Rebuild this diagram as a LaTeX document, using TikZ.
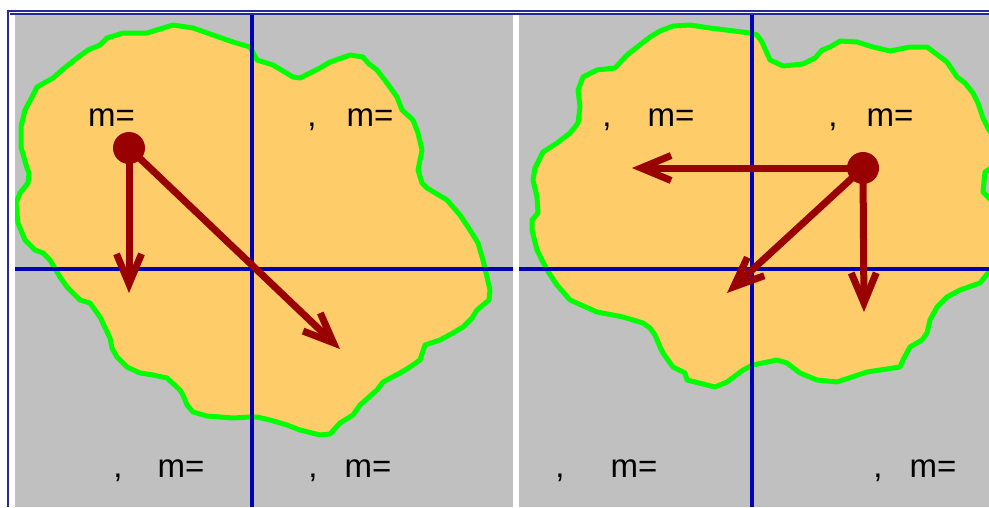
\documentclass[tikz,border=0pt]{standalone}
\usepackage{fontspec}
\setmainfont{Liberation Sans}
\usetikzlibrary{arrows.meta}
\definecolor{bggray}{RGB}{192,192,192}
\definecolor{blobfill}{RGB}{254,204,104}
\definecolor{blobline}{RGB}{0,255,0}
\definecolor{axisblue}{RGB}{0,0,180}
\definecolor{arrowred}{RGB}{153,0,0}
\definecolor{frameblue}{RGB}{40,40,150}
\begin{document}
\begin{tikzpicture}[x=1pt,y=-1pt,
  panel/.style={fill=bggray},
  blob/.style={fill=blobfill, draw=blobline, line width=5pt, line join=round},
  axisline/.style={draw=axisblue, line width=4.2pt},
  vec/.style={draw=arrowred, line width=7pt, -{Straight Barb[length=30pt,width=25pt]}},
  dot/.style={circle, fill=arrowred, minimum size=32pt, inner sep=0pt},
  lbl/.style={font=\fontsize{33}{36}\selectfont, inner sep=0pt, text=black, anchor=base},
  ]
\useasboundingbox (0,0) rectangle (989,507);
\fill[white] (0,0) rectangle (989,507);
% frame
\draw[frameblue, line width=1.8pt] (8,507) -- (8,10.8) -- (989,10.8);
\draw[frameblue, line width=1.5pt] (10,13.8) -- (989,13.8);
% panels
\fill[panel] (15,15) rectangle (512.7,507);
\fill[panel] (519.3,15) rectangle (989,507);
% blob 1
\begin{scope}
\clip (15,15) rectangle (512.7,507);
\draw[blob] (27,168) -- (21,147) -- (21,127) -- (25,110) -- (32,97) -- (37,87) -- (53,78) -- (62,70) -- (77,58) -- (88,50) -- (100,45) -- (107,38) -- (123,33) -- (147,33) -- (173,25) -- (193,28) -- (213,35) -- (233,42) -- (250,47) -- (257,60) -- (273,65) -- (293,77) -- (300,78) -- (320,68) -- (330,62) -- (350,55) -- (363,57) -- (368,63) -- (377,70) -- (387,83) -- (397,97) -- (402,110) -- (413,120) -- (418,133) -- (422,150) -- (418,170) -- (422,183) -- (427,188) -- (447,200) -- (460,215) -- (470,230) -- (478,243) -- (483,260) -- (487,277) -- (490,290) -- (489,300) -- (477,310) -- (472,318) -- (463,327) -- (453,333) -- (440,340) -- (425,345) -- (420,360) -- (410,367) -- (400,373) -- (383,382) -- (377,390) -- (360,405) -- (353,415) -- (340,423) -- (330,434) -- (320,435) -- (300,430) -- (287,425) -- (270,420) -- (257,417) -- (250,417) -- (233,418) -- (207,416) -- (193,412) -- (187,405) -- (183,395) -- (180,390) -- (167,378) -- (153,375) -- (140,373) -- (127,367) -- (117,357) -- (112,348) -- (110,338) -- (100,317) -- (90,303) -- (80,300) -- (67,287) -- (60,277) -- (50,260) -- (43,253) -- (35,250) -- (25,240) -- (18,223) -- (16,203) -- (20,193) -- (28,183) -- (29,173) -- cycle;
\end{scope}
% blob 2
\begin{scope}
\clip (519.3,15) rectangle (989,507);
\draw[blob] (535,168) -- (543,152) -- (557,143) -- (570,133) -- (578,123) -- (580,107) -- (578,90) -- (583,77) -- (597,70) -- (615,68) -- (627,55) -- (650,37) -- (660,31) -- (673,26) -- (690,25) -- (710,28) -- (750,33) -- (757,35) -- (762,42) -- (770,60) -- (783,66) -- (803,64) -- (815,58) -- (822,50) -- (830,47) -- (840,41) -- (857,42) -- (873,47) -- (890,51) -- (910,47) -- (927,47) -- (947,62) -- (957,77) -- (965,83) -- (973,93) -- (978,103) -- (983,118) -- (989,130) -- (996,140) -- (996,165) -- (985,172) -- (983,192) -- (996,205) -- (996,265) -- (988,273) -- (980,283) -- (960,290) -- (947,297) -- (937,307) -- (930,320) -- (927,333) -- (922,340) -- (910,347) -- (903,360) -- (900,367) -- (867,372) -- (837,382) -- (817,380) -- (800,373) -- (787,363) -- (777,360) -- (753,365) -- (743,370) -- (727,382) -- (715,387) -- (687,380) -- (685,373) -- (673,367) -- (663,353) -- (660,347) -- (655,335) -- (650,328) -- (643,323) -- (623,317) -- (597,312) -- (570,300) -- (557,285) -- (547,270) -- (537,250) -- (532,230) -- (532,220) -- (538,213) -- (537,197) -- (533,180) -- cycle;
\end{scope}
% axes
\draw[axisline] (252,15) -- (252,507);
\draw[axisline] (15,269) -- (512.7,269);
\draw[axisline] (751.7,15) -- (751.7,507);
\draw[axisline] (519.3,269) -- (989,269);
% vectors panel 1
\node[dot] (d1) at (129,148) {};
\coordinate (t1a) at (129,293);
\coordinate (t1b) at (340,349);
\draw[vec] (d1.center) -- (t1a);
\draw[vec] (d1.center) -- (t1b);
% vectors panel 2
\node[dot] (d2) at (863,168) {};
\coordinate (t2a) at (632,168);
\coordinate (t2b) at (727,293);
\coordinate (t2c) at (864,312);
\draw[vec] (d2.center) -- (t2a);
\draw[vec] (d2.center) -- (t2b);
\draw[vec] (d2.center) -- (t2c);
% labels
\node[lbl] (m1) at (111.5,126) {m=};
\node[lbl] (c2) at (312,126) {,};
\node[lbl] (m2) at (370,126) {m=};
\node[lbl] (c3) at (118,477) {,};
\node[lbl] (m3) at (181,477) {m=};
\node[lbl] (c4) at (313,477) {,};
\node[lbl] (m4) at (368,477) {m=};
\node[lbl] (c5) at (607,126) {,};
\node[lbl] (m5) at (671,126) {m=};
\node[lbl] (c6) at (833,126) {,};
\node[lbl] (m6) at (890,126) {m=};
\node[lbl] (c7) at (560,477) {,};
\node[lbl] (m7) at (634,477) {m=};
\node[lbl] (c8) at (878,477) {,};
\node[lbl] (m8) at (933,477) {m=};
\end{tikzpicture}
\end{document}
